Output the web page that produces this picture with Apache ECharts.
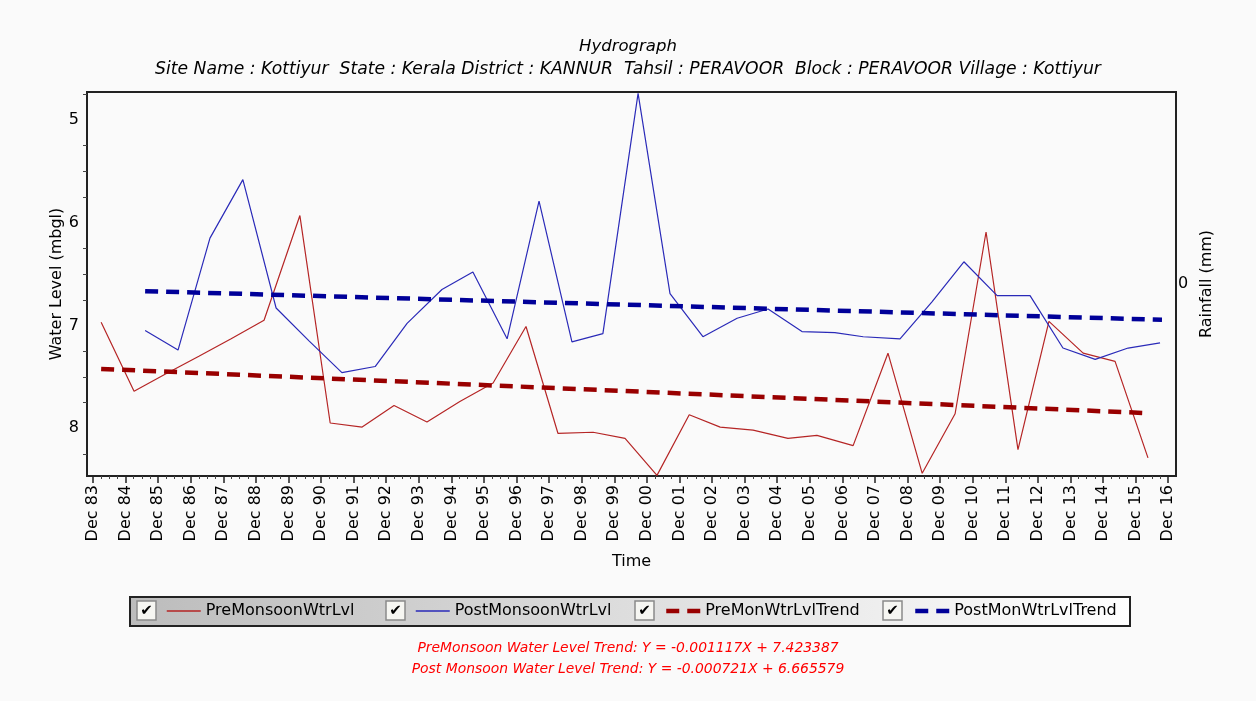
<!DOCTYPE html>
<html>
<head>
<meta charset="utf-8">
<title>Hydrograph</title>
<script src="https://cdn.jsdelivr.net/npm/echarts@6/dist/echarts.min.js"></script>
<style>
    html, body { margin: 0; padding: 0; background: #fafafa; }
    #main { width: 1256px; height: 701px; }
</style>
</head>
<body>
<div id="main"></div>
<script>
    // x values are decimal years, "Dec YY" ticks sit at YYYY + 0.96
    var tickLabels = ['Dec 83', 'Dec 84', 'Dec 85', 'Dec 86', 'Dec 87', 'Dec 88', 'Dec 89', 'Dec 90', 'Dec 91', 'Dec 92',
        'Dec 93', 'Dec 94', 'Dec 95', 'Dec 96', 'Dec 97', 'Dec 98', 'Dec 99', 'Dec 00', 'Dec 01', 'Dec 02',
        'Dec 03', 'Dec 04', 'Dec 05', 'Dec 06', 'Dec 07', 'Dec 08', 'Dec 09', 'Dec 10', 'Dec 11', 'Dec 12',
        'Dec 13', 'Dec 14', 'Dec 15', 'Dec 16'];

    //pre monsoon (mbgl)
    var preDates = [1984.21, 1985.22, 1986.20, 1987.21, 1988.20, 1989.21, 1990.31, 1991.24, 1992.22, 1993.20,
        1994.21, 1995.22, 1996.24, 1997.25, 1998.23, 1999.31, 2000.29, 2001.27, 2002.26, 2003.21,
        2004.22, 2005.29, 2006.18, 2007.29, 2008.36, 2009.41, 2010.42, 2011.37, 2012.35, 2013.30,
        2014.35, 2015.33, 2016.34];
    var preLevels = [6.97, 7.64, 7.47, 7.30, 7.13, 6.95, 5.93, 7.95, 7.99, 7.78,
        7.94, 7.74, 7.56, 7.01, 8.05, 8.04, 8.10, 8.46, 7.87, 7.99,
        8.02, 8.10, 8.07, 8.17, 7.27, 8.44, 7.86, 6.09, 8.21, 6.96,
        7.27, 7.35, 8.29];

    //post monsoon (mbgl)
    var postDates = [1985.56, 1986.57, 1987.55, 1988.56, 1989.58, 1990.59, 1991.60, 1992.62, 1993.60, 1994.67,
        1995.62, 1996.67, 1997.65, 1998.66, 1999.61, 2000.69, 2001.67, 2002.68, 2003.73, 2004.68,
        2005.72, 2006.73, 2007.60, 2008.73, 2009.71, 2010.69, 2011.71, 2012.72, 2013.73, 2014.72,
        2015.73, 2016.71];
    var postLevels = [7.05, 7.24, 6.15, 5.58, 6.83, 7.15, 7.46, 7.40, 6.98, 6.65,
        6.48, 7.13, 5.79, 7.16, 7.08, 4.74, 6.69, 7.11, 6.93, 6.84,
        7.06, 7.07, 7.11, 7.13, 6.77, 6.38, 6.71, 6.71, 7.22, 7.33,
        7.22, 7.17];

    //trend lines, start and end
    var preTrend = [[1984.21, 7.423], [2016.34, 7.854]];
    var postTrend = [[1985.56, 6.666], [2016.77, 6.945]];

    var levelLabels = [5, 6, 7, 8];
    var rainLabels = [0];

    var seriesNames = ['PreMonsoonWtrLvl', 'PostMonsoonWtrLvl', 'PreMonWtrLvlTrend', 'PostMonWtrLvlTrend'];
    var trendText = [
        'PreMonsoon Water Level Trend: Y = -0.001117X + 7.423387',
        'Post Monsoon Water Level Trend: Y = -0.000721X + 6.665579'
    ];

    function pairs(xs, ys) {
        var out = [];
        for (var i = 0; i < xs.length; i++) {
            out.push([xs[i], ys[i]]);
        }
        return out;
    }

    var firstTick = 1983.96;
    var tickPos = tickLabels.map(function (s, i) { return firstTick + i; });
    var minorPos = [];
    for (var i = -1; i < tickLabels.length; i++) {
        minorPos.push(firstTick + i + 0.25, firstTick + i + 0.5, firstTick + i + 0.75);
    }
    var yTicks = [4.75, 5.25, 5.5, 5.75, 6.25, 6.5, 6.75, 7.25, 7.5, 7.75, 8.25];

    var font = 'DejaVu Sans';
    var chart = echarts.init(document.getElementById('main'));

    //legend: one legend per item so they line up with the check boxes
    var legendLeft = [166, 415, 664, 913];
    var boxLeft = [137, 386, 635, 883];
    var legendLines = [
        { width: 1.5 },
        { width: 1.5 },
        { width: 4.5, type: [13, 8] },
        { width: 4.5, type: [13, 8] }
    ];
    var legends = seriesNames.map(function (n, i) {
        return {
            data: [n],
            left: legendLeft[i],
            top: 603,
            padding: 0,
            itemWidth: 34,
            itemHeight: 14,
            selectedMode: false,
            itemStyle: { opacity: 0 },
            lineStyle: legendLines[i],
            textStyle: { fontFamily: font, fontSize: 16, color: '#000' }
        };
    });

    var graphics = [{
        type: 'rect',
        z: 1,
        shape: { x: 130, y: 597, width: 1000, height: 29 },
        style: {
            fill: new echarts.graphic.LinearGradient(0, 0, 1, 0, [
                { offset: 0, color: '#bcbcbc' },
                { offset: 1, color: '#ffffff' }
            ]),
            stroke: '#222',
            lineWidth: 2
        }
    }];
    boxLeft.forEach(function (x) {
        graphics.push({
            type: 'rect', z: 5,
            shape: { x: x, y: 601, width: 19, height: 19 },
            style: { fill: '#f6f6f2', stroke: '#8a8a8a', lineWidth: 1.5 }
        });
        graphics.push({
            type: 'text', z: 6,
            x: x + 9.5, y: 611,
            style: { text: '\u2714', fill: '#000', font: 'bold 15px DejaVu Sans', align: 'center', verticalAlign: 'middle' }
        });
    });

    var titleStyle = { fontFamily: font, fontStyle: 'italic', fontWeight: 'normal', color: '#000' };

    var option = {
        backgroundColor: '#fafafa',
        animation: false,
        title: [{
            text: 'Hydrograph',
            left: 'center', top: 33,
            textStyle: Object.assign({}, titleStyle, { fontSize: 16.5 })
        }, {
            text: 'Site Name : Kottiyur  State : Kerala District : KANNUR  Tahsil : PERAVOOR  Block : PERAVOOR Village : Kottiyur',
            left: 'center', top: 56,
            textStyle: Object.assign({}, titleStyle, { fontSize: 17.2 })
        }, {
            text: trendText[0],
            left: 'center', top: 636,
            textStyle: Object.assign({}, titleStyle, { fontSize: 13.9, color: '#ff0000' })
        }, {
            text: trendText[1],
            left: 'center', top: 657,
            textStyle: Object.assign({}, titleStyle, { fontSize: 13.9, color: '#ff0000' })
        }],
        legend: legends,
        graphic: graphics,
        grid: {
            left: 87, right: 80, top: 92, bottom: 225,
            show: true,
            backgroundColor: '#fafafa',
            borderColor: '#222',
            borderWidth: 2
        },
        xAxis: [{
            type: 'value',
            min: 1983.776,
            max: 2017.20,
            name: 'Time',
            nameLocation: 'middle',
            nameGap: 78,
            nameTextStyle: { fontFamily: font, fontSize: 16, color: '#000' },
            axisLine: { show: true, onZero: false, lineStyle: { color: '#222', width: 2 } },
            axisTick: { show: true, customValues: tickPos, length: 7, lineStyle: { color: '#222', width: 1.5 } },
            axisLabel: {
                customValues: tickPos,
                rotate: 90,
                margin: 9,
                fontFamily: font,
                fontSize: 16,
                color: '#000',
                formatter: function (v) {
                    return tickLabels[Math.round(v - firstTick)];
                }
            },
            splitLine: { show: false }
        }, {
            type: 'value',
            position: 'bottom',
            min: 1983.776,
            max: 2017.20,
            axisLine: { show: false, onZero: false },
            axisTick: { show: true, customValues: minorPos, length: 3, lineStyle: { color: '#444' } },
            axisLabel: { show: false },
            splitLine: { show: false }
        }],
        yAxis: [{
            type: 'value',
            inverse: true,
            min: 4.727,
            max: 8.466,
            name: 'Water Level (mbgl)',
            nameLocation: 'middle',
            nameGap: 22,
            nameMoveOverlap: false,
            nameRotate: 90,
            nameTextStyle: { fontFamily: font, fontSize: 16, color: '#000' },
            axisLine: { show: true, onZero: false, lineStyle: { color: '#222', width: 2 } },
            axisTick: { show: true, customValues: yTicks, length: 4, lineStyle: { color: '#444' } },
            axisLabel: { customValues: levelLabels, margin: 8, fontFamily: font, fontSize: 16, color: '#000' },
            splitLine: { show: false }
        }, {
            type: 'value',
            position: 'right',
            min: -1,
            max: 1,
            name: 'Rainfall (mm)',
            nameLocation: 'middle',
            nameGap: 22,
            nameRotate: 90,
            nameTextStyle: { fontFamily: font, fontSize: 16, color: '#000' },
            axisLine: { show: false, onZero: false },
            axisTick: { show: false },
            axisLabel: { customValues: rainLabels, margin: 2, fontFamily: font, fontSize: 16, color: '#000' },
            splitLine: { show: false }
        }],
        series: [{
            name: seriesNames[0],
            type: 'line',
            data: pairs(preDates, preLevels),
            symbol: 'none',
            lineStyle: { color: '#b52525', width: 1.2 },
            itemStyle: { color: '#b52525' }
        }, {
            name: seriesNames[1],
            type: 'line',
            data: pairs(postDates, postLevels),
            symbol: 'none',
            lineStyle: { color: '#2a2ab8', width: 1.2 },
            itemStyle: { color: '#2a2ab8' }
        }, {
            name: seriesNames[2],
            type: 'line',
            data: preTrend,
            symbol: 'none',
            lineStyle: { color: '#990000', width: 4.5, type: [13, 8] },
            itemStyle: { color: '#990000' }
        }, {
            name: seriesNames[3],
            type: 'line',
            data: postTrend,
            symbol: 'none',
            lineStyle: { color: '#000099', width: 4.5, type: [13, 8] },
            itemStyle: { color: '#000099' }
        }]
    };

    chart.setOption(option);
</script>
</body>
</html>
